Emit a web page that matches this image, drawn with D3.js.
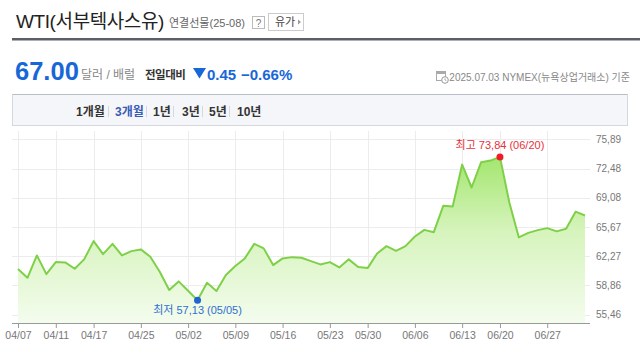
<!DOCTYPE html>
<html><head><meta charset="utf-8">
<script src="https://cdn.jsdelivr.net/npm/d3@7/dist/d3.min.js"></script>
<style>
body{margin:0;background:#fff;}
text{font-family:"Liberation Sans","Noto Sans CJK KR",sans-serif;}
</style></head>
<body><svg id="c" width="640" height="360"></svg>
<script>
const dates = ["04/07","04/08","04/09","04/10","04/11","04/14","04/15","04/16","04/17","04/21","04/22","04/23","04/24","04/25","04/28","04/29","04/30","05/01","05/02","05/05","05/06","05/07","05/08","05/09","05/12","05/13","05/14","05/15","05/16","05/19","05/20","05/21","05/22","05/23","05/27","05/28","05/29","05/30","06/02","06/03","06/04","06/05","06/06","06/09","06/10","06/11","06/12","06/13","06/16","06/17","06/18","06/20","06/23","06/24","06/25","06/26","06/27","06/30","07/01","07/02","07/03"];
const prices = [60.76,59.74,62.35,60.17,61.57,61.53,60.79,61.89,64.02,62.50,63.70,62.35,62.85,63.05,62.19,60.44,58.31,59.32,58.23,57.13,59.16,58.20,60.06,61.11,62.00,63.70,63.17,61.22,62.00,62.15,62.07,61.69,61.30,61.57,60.95,61.89,60.99,60.87,62.58,63.43,62.89,63.43,64.56,65.33,65.06,68.13,68.06,72.95,70.27,73.21,73.41,73.84,68.50,64.45,64.98,65.30,65.53,65.15,65.45,67.45,67.00];
const xTicks = ["04/07","04/11","04/17","04/25","05/02","05/09","05/16","05/23","05/30","06/06","06/13","06/20","06/27"];
const yTicks = [55.46,58.86,62.27,65.67,69.08,72.48,75.89];
const tabs = ["1개월","3개월","1년","3년","5년","10년"];

const svg = d3.select("#c");
const data = dates.map((d,i)=>({d, v:prices[i]}));

// ---------- header ----------
svg.append("text").attr("x",16).attr("y",28).attr("font-size",19).attr("fill","#222")
  .attr("letter-spacing","-0.4").text("WTI(서부텍사스유)");
svg.append("text").attr("x",169).attr("y",27).attr("font-size",11).attr("fill","#666").text("연결선물(25-08)");
svg.append("rect").attr("x",252.5).attr("y",16.5).attr("width",12).attr("height",12).attr("fill","#fff").attr("stroke","#bbb");
svg.append("text").attr("x",258.5).attr("y",26.5).attr("font-size",10).attr("fill","#777").attr("text-anchor","middle").text("?");
svg.append("rect").attr("x",268.5).attr("y",13.5).attr("width",35).attr("height",17).attr("fill","#fff").attr("stroke","#ccc");
svg.append("text").attr("x",275).attr("y",26).attr("font-size",11).attr("fill","#444").text("유가");
svg.append("path").attr("d","M298,19.5 L301,22 L298,24.5Z").attr("fill","#999");
svg.append("rect").attr("x",12).attr("y",38).attr("width",628).attr("height",2.5).attr("fill","#5a5e66");

svg.append("text").attr("x",15).attr("y",80).attr("font-size",25.5).attr("font-weight","bold").attr("fill","#1767d8").text("67.00");
svg.append("text").attr("x",81).attr("y",79).attr("font-size",12).attr("fill","#888").text("달러 / 배럴");
svg.append("text").attr("x",145).attr("y",79).attr("font-size",11.5).attr("font-weight","bold").attr("fill","#333")
  .attr("letter-spacing","-0.5").text("전일대비");
svg.append("path").attr("d","M193,68 L206,68 L199.5,78.5Z").attr("fill","#1767d8");
svg.append("text").attr("x",207).attr("y",80).attr("font-size",15).attr("font-weight","bold").attr("fill","#1767d8").text("0.45");
svg.append("text").attr("x",241).attr("y",80).attr("font-size",15).attr("font-weight","bold").attr("fill","#1767d8").text("−0.66%");

// calendar icon
const ic = svg.append("g").attr("transform","translate(436,70)");
ic.append("rect").attr("x",0.5).attr("y",1.5).attr("width",9).attr("height",9).attr("fill","#fff").attr("stroke","#aaa");
ic.append("rect").attr("x",0.5).attr("y",1.5).attr("width",9).attr("height",2.5).attr("fill","#aaa");
ic.append("circle").attr("cx",9).attr("cy",10).attr("r",3.3).attr("fill","#fff").attr("stroke","#999");
ic.append("path").attr("d","M9,8.3 L9,10 L10.4,10.6").attr("stroke","#999").attr("fill","none").attr("stroke-width",0.8);
svg.append("text").attr("x",630).attr("y",81).attr("font-size",10).attr("fill","#888").attr("text-anchor","end")
  .text("2025.07.03 NYMEX(뉴욕상업거래소) 기준");

// ---------- tab bar ----------
svg.append("rect").attr("x",12.5).attr("y",94.5).attr("width",615).attr("height",31).attr("fill","#f5f6f9").attr("stroke","#d5d8de");
svg.append("line").attr("x1",12.5).attr("x2",627.5).attr("y1",94.5).attr("y2",94.5).attr("stroke","#b9bdc5");
const tabX = [76,115,153,182,209,237];
const sepX = [108,146,173,202,229];
tabs.forEach((t,i)=>{
  svg.append("text").attr("x",tabX[i]).attr("y",116).attr("font-size",12).attr("font-weight","bold")
    .attr("fill", i===1 ? "#3a5bb5" : "#333").text(t);
});
sepX.forEach(s=>svg.append("line").attr("x1",s+0.5).attr("x2",s+0.5).attr("y1",106).attr("y2",117).attr("stroke","#d6d8dd"));

// ---------- chart ----------
const x = d3.scalePoint().domain(dates).range([18,585]);
const y = d3.scaleLinear().domain([55.46,75.89]).range([314.5,139.3]);
const baseY = 323;
const fmt = v => v.toFixed(2).replace(".",",");

const grid = svg.append("g");
grid.selectAll("line.v").data(xTicks).join("line")
  .attr("x1",d=>Math.round(x(d))+0.5).attr("x2",d=>Math.round(x(d))+0.5)
  .attr("y1",131).attr("y2",baseY).attr("stroke","#ececec");
grid.selectAll("line.h").data(yTicks).join("line")
  .attr("x1",12).attr("x2",590)
  .attr("y1",d=>Math.round(y(d))+0.5).attr("y2",d=>Math.round(y(d))+0.5).attr("stroke","#ececec");

const defs = svg.append("defs");
const grad = defs.append("linearGradient").attr("id","g1").attr("x1",0).attr("y1",0).attr("x2",0).attr("y2",1);
grad.append("stop").attr("offset","0%").attr("stop-color","#a4e66f");
grad.append("stop").attr("offset","45%").attr("stop-color","#d6f4bd");
grad.append("stop").attr("offset","100%").attr("stop-color","#f4fcee");

svg.append("path").datum(data)
  .attr("d", d3.area().x(d=>x(d.d)).y0(baseY).y1(d=>y(d.v)))
  .attr("fill","url(#g1)");
svg.append("path").datum(data)
  .attr("d", d3.line().x(d=>x(d.d)).y(d=>y(d.v)))
  .attr("fill","none").attr("stroke","#7fd049").attr("stroke-width",2).attr("stroke-linejoin","round");

// axes
const xa = svg.append("g").attr("transform",`translate(0,${baseY})`)
  .call(d3.axisBottom(x).tickValues(xTicks).tickSize(5).tickPadding(4).tickSizeOuter(0));
xa.select(".domain").remove();
xa.selectAll(".tick line").attr("stroke","#999");
xa.selectAll(".tick text").attr("font-size",10.5).attr("fill","#777").attr("font-family",null);
svg.append("line").attr("x1",12).attr("x2",590).attr("y1",baseY+0.5).attr("y2",baseY+0.5).attr("stroke","#9a9a9a");

const ya = svg.append("g").attr("transform","translate(590,0)")
  .call(d3.axisRight(y).tickValues(yTicks).tickSize(0).tickPadding(6).tickFormat(fmt));
ya.select(".domain").remove();
ya.selectAll(".tick text").attr("font-size",10).attr("fill","#777").attr("font-family",null);

// min / max markers
const maxD = data.reduce((a,b)=>b.v>a.v?b:a);
const minD = data.reduce((a,b)=>b.v<a.v?b:a);
svg.append("circle").attr("cx",x(maxD.d)).attr("cy",y(maxD.v)).attr("r",3.5).attr("fill","#f01c28");
svg.append("text").attr("x",x(maxD.d)).attr("y",y(maxD.v)-8).attr("text-anchor","middle")
  .attr("font-size",11).attr("fill","#e8303a").text(`최고 ${fmt(maxD.v)} (${maxD.d})`);
svg.append("circle").attr("cx",x(minD.d)).attr("cy",y(minD.v)).attr("r",3.5).attr("fill","#1f64d0");
svg.append("text").attr("x",x(minD.d)).attr("y",y(minD.v)+14).attr("text-anchor","middle")
  .attr("font-size",11).attr("fill","#2f6fd0").text(`최저 ${fmt(minD.v)} (${minD.d})`);
</script></body></html>
